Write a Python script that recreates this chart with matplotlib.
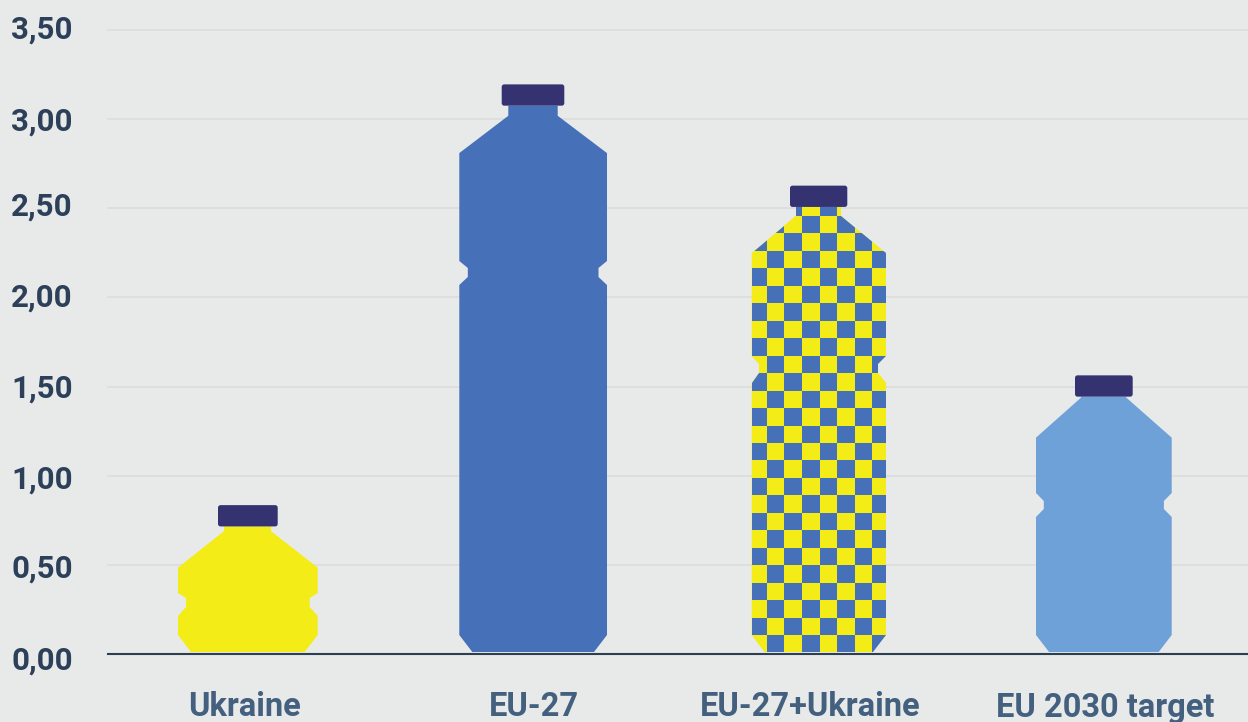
import matplotlib
matplotlib.use("Agg")
import matplotlib.pyplot as plt
import numpy as np
from matplotlib.colors import ListedColormap
from matplotlib.patches import FancyBboxPatch, Polygon
from matplotlib.transforms import ScaledTranslation

categories = ["Ukraine", "EU-27", "EU-27+Ukraine", "EU 2030 target"]
values = [0.835, 3.195, 2.627, 1.563]
y_ticks = [0, 0.5, 1, 1.5, 2, 2.5, 3, 3.5]
y_tick_labels = ["0,00", "0,50", "1,00", "1,50", "2,00", "2,50", "3,00", "3,50"]

# layout in pixels --------------------------------------------------------------
BG = "#e8eaea"
BLUE = "#4671b8"
YELLOW = "#f3ec16"
LIGHT = "#6ea1d7"
CAP = "#343270"
PX = 3.5 / 624  # value units per pixel

label_x = [244, 534, 810, 1105]
# the tick labels sit a little off their gridlines in the original
label_nudge = [-4, -1, -1, 1, 3, 5, 1, 3]
# left, right, neck left, neck right, cap left, cap right, neck drop, shoulder drop, notch heights, inset
shapes = [
    (178, 317.7, 224, 271, 218, 277.7, 26, 62.5, (38, 47, 56, 61), 8),
    (459.3, 607, 508.3, 557.7, 501.7, 564.3, 31.4, 68.7, (369, 377, 386, 393), 8.5),
    (751.7, 885.7, 796, 840.7, 790, 847.3, 30, 67.6, (271, 281, 290, 298), 7.7),
    (1036, 1171.7, 1081, 1126.3, 1075, 1132.7, 22.3, 62.3, (137, 145, 153, 161), 7.8),
]
colors = [YELLOW, BLUE, None, LIGHT]


def bottle_outline(value, shape):
    left, right, nl, nr, cl, cr, neck, shoulder, notch, inset = shape
    top = value / PX
    cap_low = top - 21.3
    n1, n2, n3, n4 = notch
    pts = [
        (left + 13, 2), (right - 13, 2), (right, 19), (right, n1),
        (right - inset, n2), (right - inset, n3), (right, n4),
        (right, top - shoulder), (nr, top - neck), (nr, cap_low),
        (nl, cap_low), (nl, top - neck), (left, top - shoulder), (left, n4),
        (left + inset, n3), (left + inset, n2), (left, n1), (left, 19),
    ]
    return [(x, y * PX) for x, y in pts]


fig = plt.figure(figsize=(12.48, 7.22), dpi=100, facecolor=BG)
ax = fig.add_axes([108 / 1248, 68 / 722, 1140 / 1248, 624 / 722], facecolor=BG)
ax.set_xlim(108, 1248)
ax.set_ylim(0, 3.5)

for i, value in enumerate(values):
    shape = shapes[i]
    poly = Polygon(bottle_outline(value, shape), closed=True, lw=0, zorder=3,
                   facecolor=colors[i] if colors[i] else YELLOW)
    ax.add_patch(poly)
    if colors[i] is None:
        # checker fill, clipped to the bottle
        x_edges = 802 + 17.6 * np.arange(-4, 6)
        y_edges = (654 - (216 + 17.46 * np.arange(-2, 26))) * PX
        rows = len(y_edges) - 1
        cols = len(x_edges) - 1
        grid = np.fromfunction(lambda r, c: (r + c) % 2, (rows, cols))
        mesh = ax.pcolormesh(x_edges, y_edges, grid, cmap=ListedColormap([BLUE, YELLOW]), zorder=3.5)
        mesh.set_clip_path(poly)
    cap_w = shape[5] - shape[4]
    cap = FancyBboxPatch((shape[4], value - 21.3 * PX), cap_w, 21.3 * PX,
                         boxstyle="round,pad=0,rounding_size=2.5", mutation_aspect=PX,
                         facecolor=CAP, edgecolor="none", zorder=4)
    ax.add_patch(cap)

ax.set_yticks(y_ticks)
ax.set_yticklabels(y_tick_labels, fontfamily="Roboto", fontweight="bold", fontsize=22.5, color="#2d4059")
ax.set_xticks(label_x)
ax.set_xticklabels(categories, fontfamily="Roboto", fontweight="bold", fontsize=23.5, color="#44607f")
ax.tick_params(axis="y", length=0, pad=25.3)
ax.tick_params(axis="x", length=0, pad=27)
ax.grid(axis="y", color="#dedcdc", lw=1.2, zorder=1, clip_on=False)
ax.set_axisbelow(True)
for name in ["top", "right", "left"]:
    ax.spines[name].set_visible(False)
ax.spines["bottom"].set_color("#2c3e50")
ax.spines["bottom"].set_linewidth(1.5)
ax.spines["bottom"].set_zorder(5)

for lab, nudge in zip(ax.get_yticklabels(), label_nudge):
    lab.set_transform(lab.get_transform() + ScaledTranslation(0, nudge / 100, fig.dpi_scale_trans))

fig.savefig("out.png", dpi=100, facecolor=BG)
